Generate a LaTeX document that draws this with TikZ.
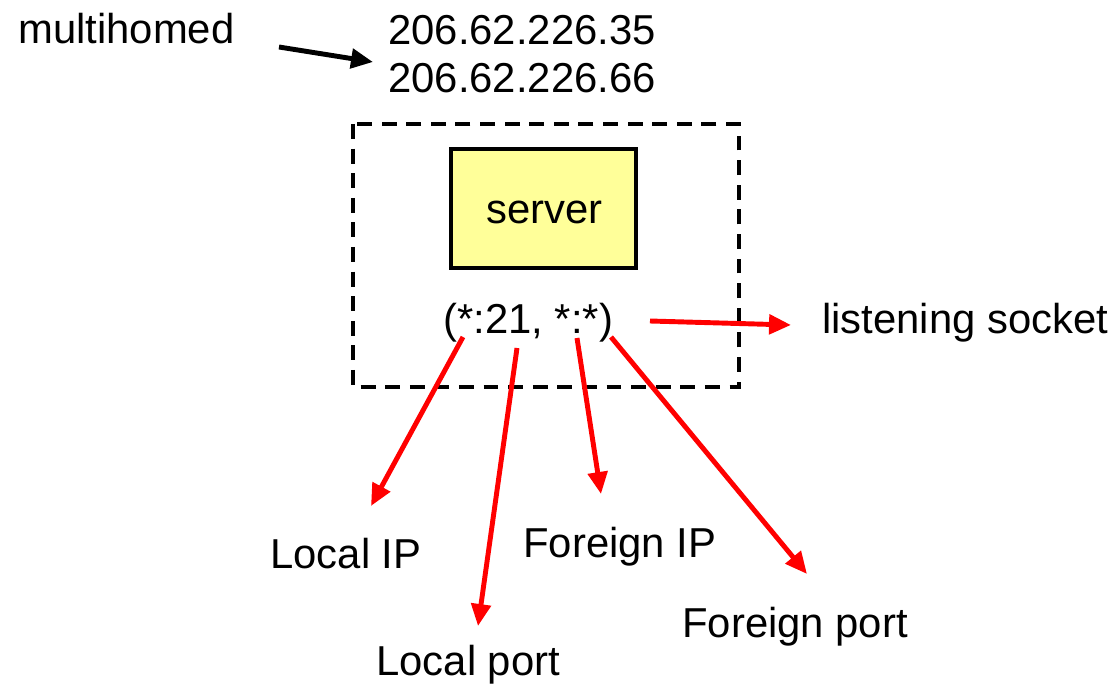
\documentclass[tikz,border=0pt]{standalone}
\usepackage{fontspec}
\setmainfont{Liberation Sans}
\usetikzlibrary{arrows.meta}
\definecolor{srvyellow}{HTML}{FFFF99}
\tikzset{
  lbl/.style={inner sep=0pt, anchor=base west, font=\fontsize{23.8}{28}\selectfont},
  redarrow/.style={draw=red, line width=2.8pt, -{Triangle[length=12.5pt,width=11pt]}},
  blackarrow/.style={draw=black, line width=2.8pt, -{Triangle[length=12.5pt,width=11pt]}},
  hostbox/.style={draw=black, line width=2.3pt, dash pattern=on 8.5pt off 5.5pt},
  srvbox/.style={draw=black, line width=2.8pt, fill=srvyellow}
}
\begin{document}
\begin{tikzpicture}[x=0.02cm,y=-0.02cm]
\useasboundingbox (0,0) rectangle (1117,686);
% dashed host box
\draw[hostbox] (353,124) rectangle (739,387);
% server box
\node[srvbox, minimum width=185*0.02cm, minimum height=119*0.02cm, inner sep=0pt] (server) at (543.5,208.5) {};
\node[lbl] (srvtxt) at (486,224) {server};
% texts
\node[lbl] (multi) at (18,44) {multihomed};
\node[lbl] (ip1) at (388,45) {206.62.226.35};
\node[lbl] (ip2) at (388,93) {206.62.226.66};
\node[lbl] (sock) at (443,334) {(*:21, *:*)};
\node[lbl] (listen) at (822,334) {listening socket};
\node[lbl] (lip) at (270,568) {Local IP};
\node[lbl] (fip) at (523,557) {Foreign IP};
\node[lbl] (lport) at (376,675) {Local port};
\node[lbl] (fport) at (682,637) {Foreign port};
% connector end points
\coordinate (mA) at (279,47);
\coordinate (mB) at (373,62);
\coordinate (lsA) at (650,321);
\coordinate (lsB) at (791,325);
\coordinate (lipA) at (463,337);
\coordinate (lipB) at (371,506);
\coordinate (lpA) at (517,348);
\coordinate (lpB) at (478,626);
\coordinate (fipA) at (577,338);
\coordinate (fipB) at (601,494);
\coordinate (fpA) at (611,337);
\coordinate (fpB) at (807,574);
% connectors
\draw[blackarrow] (mA) -- (mB);
\draw[redarrow] (lsA) -- (lsB);
\draw[redarrow] (lipA) -- (lipB);
\draw[redarrow] (lpA) -- (lpB);
\draw[redarrow] (fipA) -- (fipB);
\draw[redarrow] (fpA) -- (fpB);
\end{tikzpicture}
\end{document}
